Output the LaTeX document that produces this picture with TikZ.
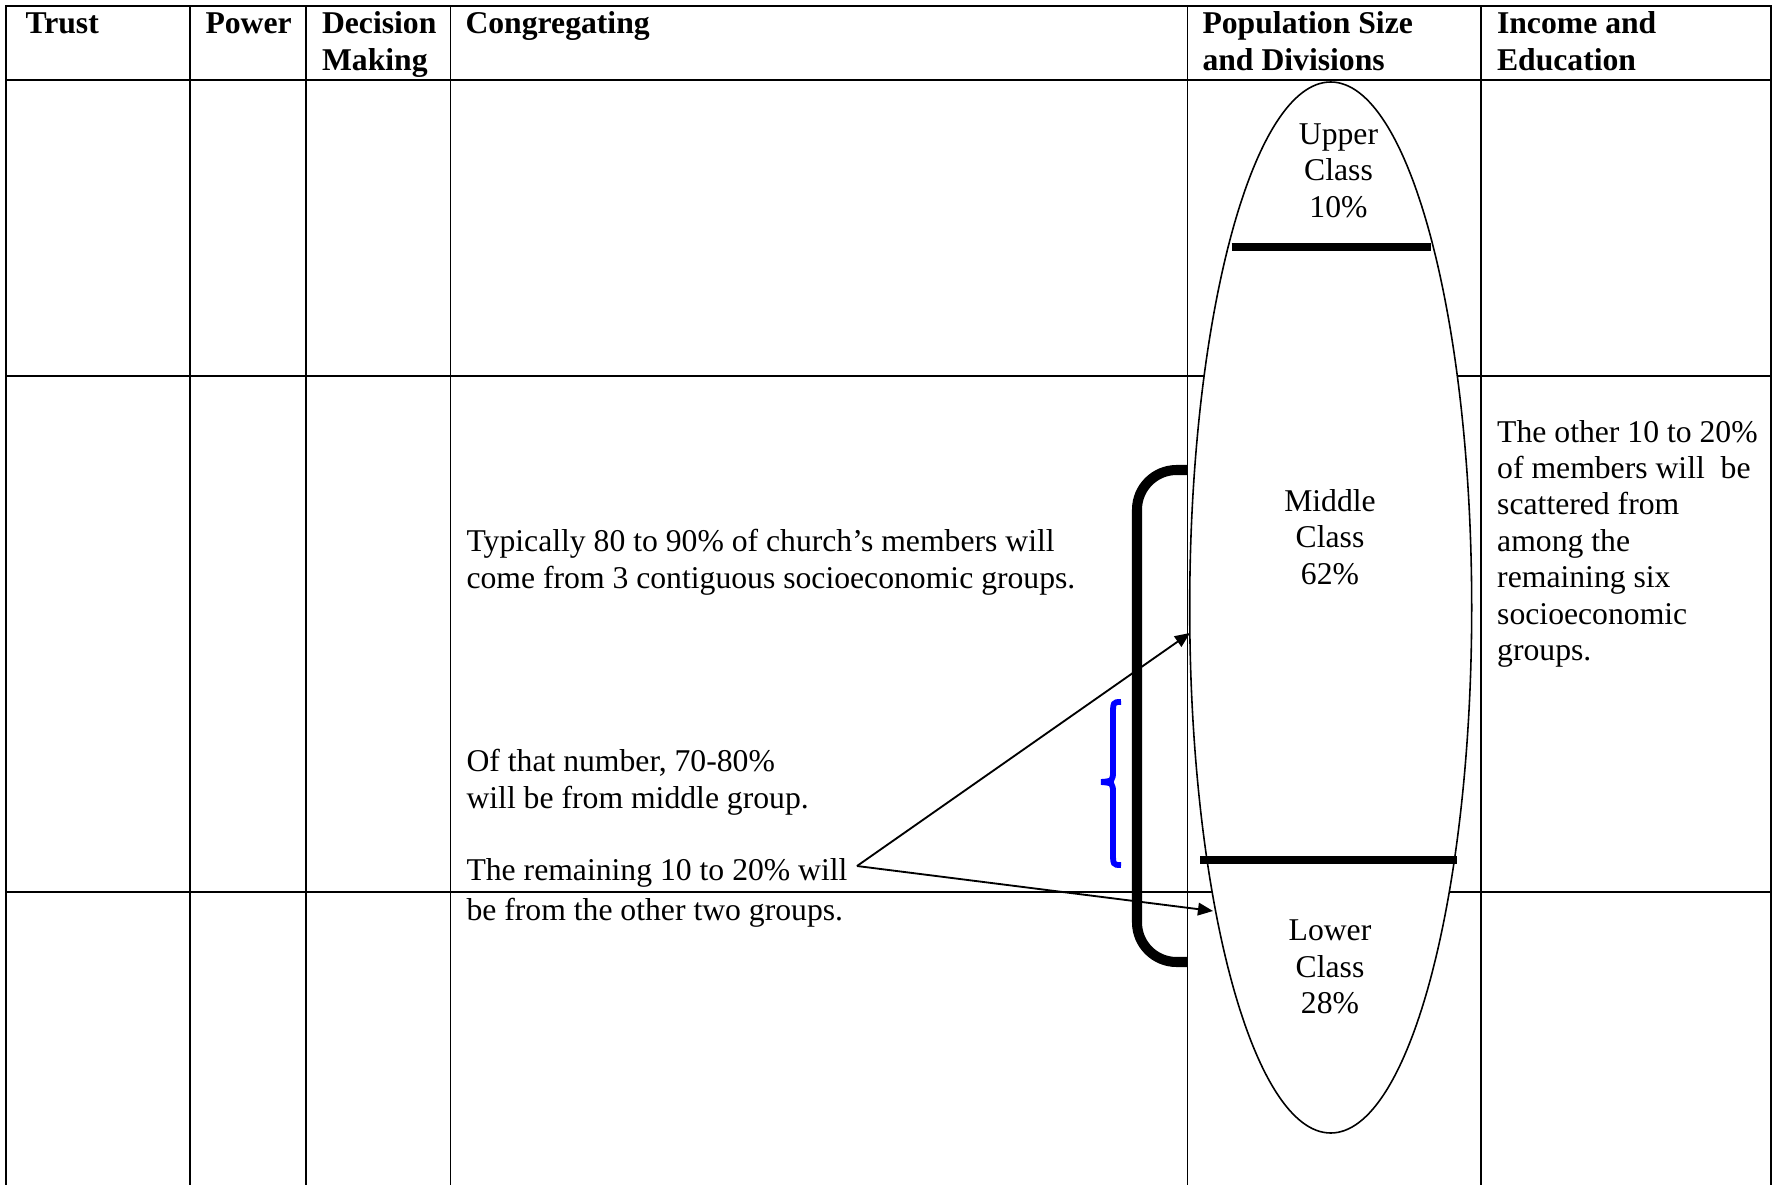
\documentclass[tikz,border=0pt]{standalone}
\usepackage{fontspec}
\setmainfont{Liberation Serif}
\usetikzlibrary{arrows.meta}
\begin{document}
\begin{tikzpicture}[x=0.3788pt,y=-0.3788pt,
  grid/.style={line width=0.75pt},
  txt/.style={font=\fontsize{12pt}{13.8pt}\selectfont, inner sep=0pt, anchor=base west, align=left},
  hdr/.style={font=\fontsize{12pt}{13.8pt}\selectfont\bfseries, inner sep=0pt, anchor=base west, align=left},
  cls/.style={font=\fontsize{12pt}{13.8pt}\selectfont, inner sep=0pt, anchor=base, align=center},
  bar/.style={line width=2.7pt},
  ptr/.style={line width=0.7pt, -{Triangle[length=5.7pt,width=4.8pt]}},
]
\useasboundingbox (0,0) rectangle (1775,1185);
% table grid
\draw[grid] (5.7,1185) -- (5.7,5.7) -- (1771,5.7) -- (1771,1185);
\foreach \x in {190,306,450.5,1187.5,1480.7} \draw[grid] (\x,5.7) -- (\x,1185);
\foreach \y in {80.4,375.8,892} \draw[grid] (5.7,\y) -- (1771,\y);
% headers (base anchor = last line's baseline)
\node[hdr] (hTrust) at (25,34) {Trust};
\node[hdr] (hPower) at (205,34) {Power};
\node[hdr] (hDec) at (321.5,70.4) {Decision\\Making};
\node[hdr] (hCong) at (465,34) {Congregating};
\node[hdr] (hPop) at (1202,70.4) {Population Size\\and Divisions};
\node[hdr] (hInc) at (1496.5,70.4) {Income and\\Education};
% population ellipse
\draw[fill=white, line width=0.6pt] (1330.7,607.5) ellipse [x radius=141, y radius=525.5];
\draw[bar] (1231.6,247) -- (1431,247);
\draw[bar] (1200,860) -- (1457,860);
\node[cls] (upper) at (1338.5,217.3) {Upper\\Class\\10\%};
\node[cls] (middle) at (1330,584) {Middle\\Class\\62\%};
\node[cls] (lower) at (1330,1013.7) {Lower\\Class\\28\%};
% congregating texts
\node[txt] (tA) at (466,588.3) {Typically 80 to 90\% of church’s members will\\come from 3 contiguous socioeconomic groups.};
\node[txt] (tB) at (466,808.3) {Of that number, 70-80\%\\will be from middle group.};
\node[txt] (tC) at (466,920) {The remaining 10 to 20\% will\\[1.1pt]be from the other two groups.};
% income text
\node[txt] (tI) at (1496.7,660.7) {The other 10 to 20\%\\of members will\ \ be\\scattered from\\among the\\remaining six\\socioeconomic\\groups.};
% thick bracket
\draw[line width=3.8pt, rounded corners=15pt] (1187.5,470) -- (1137,470) -- (1137,962) -- (1187.5,962);
% blue brace
\draw[blue, line width=2.2pt] (1121,702) .. controls (1113,702) .. (1113,716) -- (1113,770)
  .. controls (1113,781) .. (1101,782) .. controls (1113,783) .. (1113,794) -- (1113,851)
  .. controls (1113,865) .. (1121,865);
% arrows
\coordinate (apex) at (857,866);
\coordinate (midtip) at (1190,633);
\coordinate (lowtip) at (1213,911);
\draw[ptr] (apex) -- (midtip);
\draw[ptr] (apex) -- (lowtip);
\end{tikzpicture}
\end{document}
